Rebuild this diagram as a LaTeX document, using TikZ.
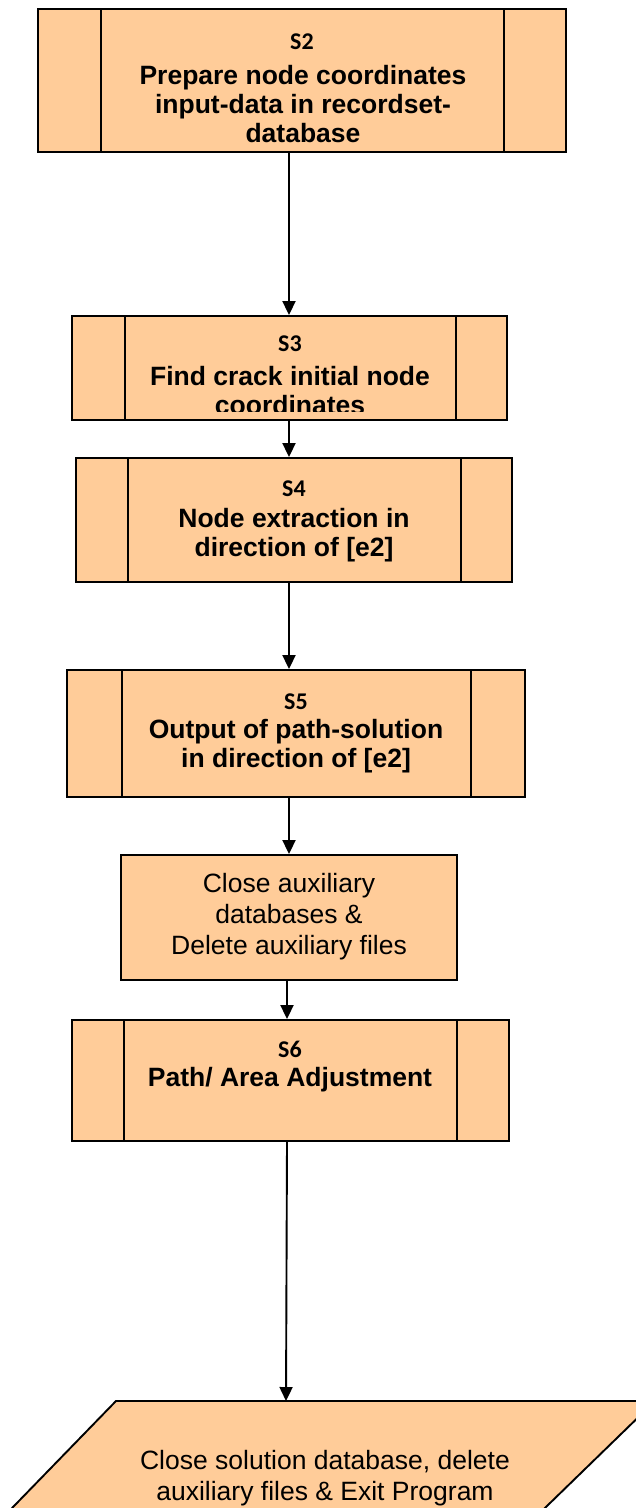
\documentclass[tikz,border=0pt]{standalone}
\usepackage{fontspec}
\setmainfont{Liberation Sans}
\newfontfamily\calib{Carlito}
\usetikzlibrary{arrows.meta}
\definecolor{peach}{RGB}{255,204,153}
\begin{document}
\begin{tikzpicture}[x=1pt,y=-1pt,
  box/.style={draw=black, line width=1.9pt, fill=peach, inner sep=0pt},
  lbl/.style={font=\calib\bfseries\fontsize{24}{28}\selectfont, inner sep=0pt},
  bt/.style={font=\bfseries\fontsize{26.5}{29}\selectfont, inner sep=0pt, align=center},
  rt/.style={font=\fontsize{26.5}{31}\selectfont, inner sep=0pt, align=center},
  sub/.style={line width=1.9pt},
  arr/.style={line width=1.9pt, -{Triangle[length=14pt,width=13pt]}}]
\useasboundingbox (0,0) rectangle (636,1508);
\clip (0,0) rectangle (636,1508);

% S2
\node[box, minimum width=528pt, minimum height=143pt] (s2) at (302,80.5) {};
\draw[sub] ([xshift=64pt]s2.north west) -- ([xshift=64pt]s2.south west);
\draw[sub] ([xshift=-63pt]s2.north east) -- ([xshift=-63pt]s2.south east);
\node[lbl] (s2l) at (302,42) {S2};
\node[bt] (s2t) at (303,104) {Prepare node coordinates\\input-data in recordset-\\database};

% S3
\node[box, minimum width=435pt, minimum height=104pt] (s3) at (289.5,368) {};
\draw[sub] ([xshift=54pt]s3.north west) -- ([xshift=54pt]s3.south west);
\draw[sub] ([xshift=-52pt]s3.north east) -- ([xshift=-52pt]s3.south east);
\node[lbl] (s3l) at (290,344) {S3};
\begin{scope}
\clip (72,316) rectangle (507,411);
\node[bt] (s3t) at (290,391) {Find crack initial node\\coordinates};
\end{scope}

% S4
\node[box, minimum width=436pt, minimum height=124pt] (s4) at (294,520) {};
\draw[sub] ([xshift=53pt]s4.north west) -- ([xshift=53pt]s4.south west);
\draw[sub] ([xshift=-52pt]s4.north east) -- ([xshift=-52pt]s4.south east);
\node[lbl] (s4l) at (294,489) {S4};
\node[bt] (s4t) at (294,535) {Node extraction in\\direction of [e2]};

% S5
\node[box, minimum width=458pt, minimum height=127pt] (s5) at (296,733.5) {};
\draw[sub] ([xshift=56pt]s5.north west) -- ([xshift=56pt]s5.south west);
\draw[sub] ([xshift=-55pt]s5.north east) -- ([xshift=-55pt]s5.south east);
\node[lbl] (s5l) at (296,702) {S5};
\node[bt] (s5t) at (296,746) {Output of path-solution\\in direction of [e2]};

% Close auxiliary
\node[box, minimum width=336pt, minimum height=125pt] (aux) at (289,917.5) {};
\node[rt] (auxt) at (289,917) {Close auxiliary\\databases \&\\Delete auxiliary files};

% S6
\node[box, minimum width=437pt, minimum height=121pt] (s6) at (290.5,1080.5) {};
\draw[sub] ([xshift=53pt]s6.north west) -- ([xshift=53pt]s6.south west);
\draw[sub] ([xshift=-53pt]s6.north east) -- ([xshift=-53pt]s6.south east);
\node[lbl] (s6l) at (290,1049) {S6};
\node[bt] (s6t) at (290,1080) {Path/ Area Adjustment};

% Output parallelogram
\draw[box] (116,1401) -- (655,1401) -- (512,1540) -- (-19,1540) -- cycle;
\coordinate (outtop) at (286,1401);
\node[rt] (outt) at (325,1478) {Close solution database, delete\\auxiliary files \& Exit Program};

% connectors
\draw[arr] ([xshift=-13pt]s2.south) -- ([xshift=-0.5pt]s3.north);
\draw[arr] ([xshift=-0.5pt]s3.south) -- ([xshift=-5pt]s4.north);
\draw[arr] ([xshift=-5pt]s4.south) -- ([xshift=-7pt]s5.north);
\draw[arr] ([xshift=-7pt]s5.south) -- (aux.north);
\draw[arr] ([xshift=-2pt]aux.south) -- ([xshift=-3.5pt]s6.north);
\draw[arr] ([xshift=-3.5pt]s6.south) -- (outtop);
\end{tikzpicture}
\end{document}
